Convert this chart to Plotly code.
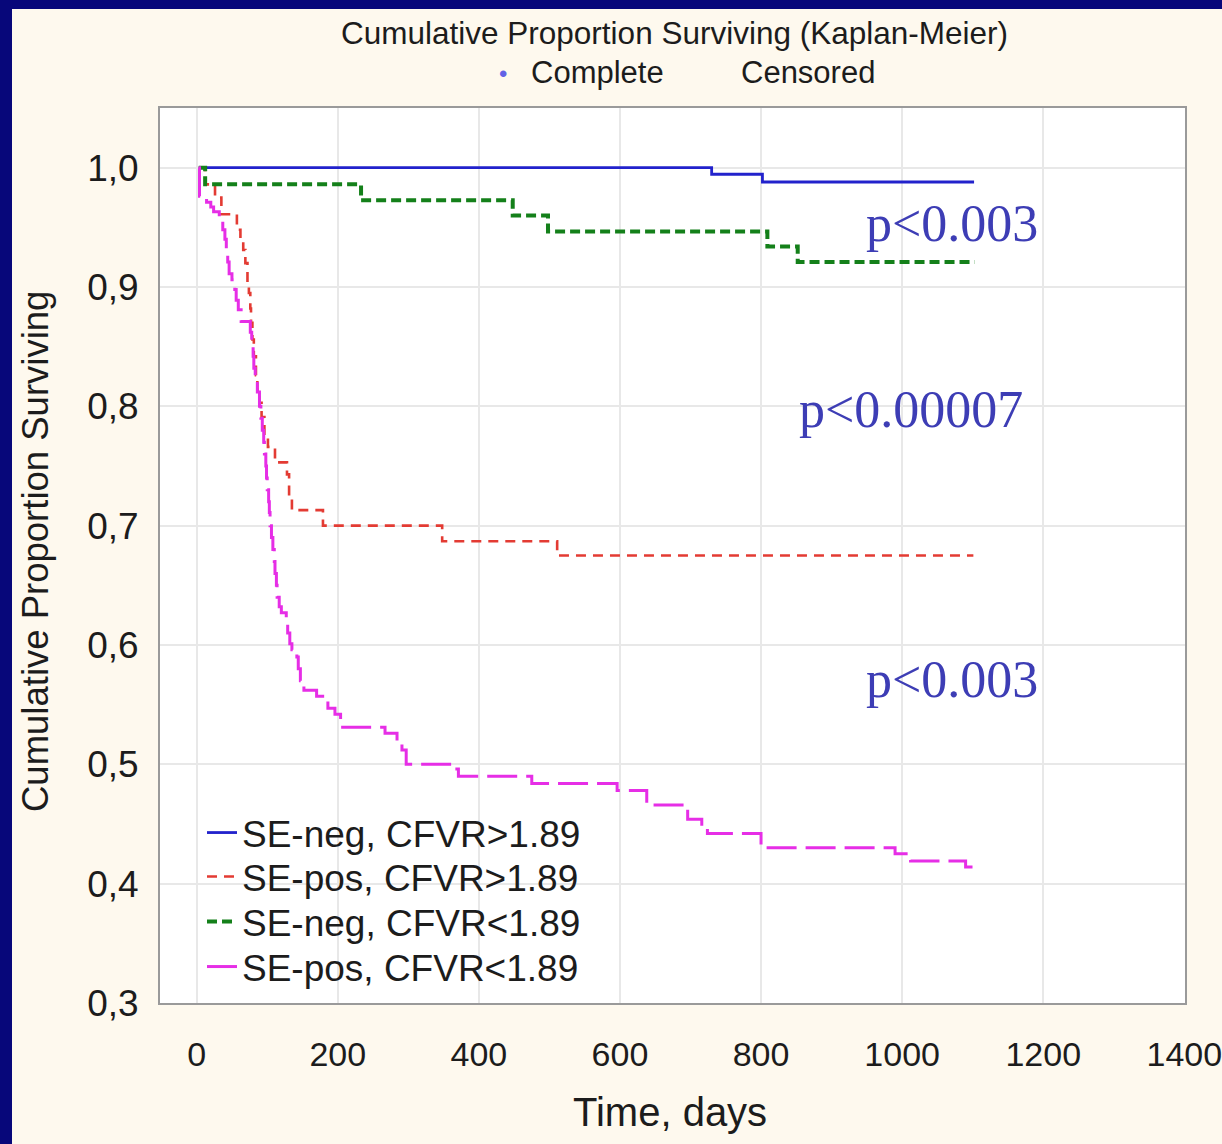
import plotly.graph_objects as go

# ---- data ----
names = ["SE-neg, CFVR>1.89", "SE-pos, CFVR>1.89", "SE-neg, CFVR<1.89", "SE-pos, CFVR<1.89"]

blue_t = [3, 730, 802, 1102]
blue_s = [1.0, 0.9945, 0.988, 0.988]

red_t = [3, 12, 26, 35, 57, 62, 66, 69, 72, 74, 76, 77, 79, 81, 84, 86, 89, 92, 96, 101,
         111, 128, 131, 135, 179, 348, 511, 1101]
red_s = [1.0, 0.986, 0.975, 0.961, 0.948, 0.940, 0.931, 0.920, 0.904, 0.895, 0.882, 0.870,
         0.856, 0.842, 0.826, 0.814, 0.803, 0.791, 0.777, 0.766, 0.753, 0.743, 0.724, 0.713,
         0.700, 0.687, 0.675, 0.675]

green_t = [3, 12, 233, 448, 498, 809, 852, 1103]
green_s = [1.0, 0.986, 0.9726, 0.960, 0.9466, 0.934, 0.921, 0.921]

mag_t = [3, 4, 11, 14, 20, 24, 32, 37, 40, 42, 44, 46, 50, 54, 56, 59, 63, 76, 78, 80,
         81, 83, 86, 89, 91, 93, 95, 96, 98, 99, 100, 102, 103, 104, 106, 108, 110, 111, 113, 114,
         117, 120, 127, 129, 132, 135, 142, 144, 147, 152, 170, 186, 196, 204, 267, 284, 291, 297,
         363, 371, 475, 596, 638, 696, 716, 724, 800, 990, 1012, 1090, 1101]
mag_s = [1.0, 0.976, 0.974, 0.971, 0.967, 0.963, 0.955, 0.948, 0.940, 0.930,
         0.921, 0.911, 0.906, 0.898, 0.889, 0.881, 0.871, 0.862, 0.852, 0.842,
         0.832, 0.823, 0.812, 0.800, 0.790, 0.780, 0.770, 0.760, 0.750, 0.740,
         0.730, 0.720, 0.711, 0.700, 0.690, 0.680, 0.670, 0.660, 0.650, 0.640,
         0.632, 0.627, 0.620, 0.610, 0.601, 0.596, 0.590, 0.580, 0.570, 0.562,
         0.557, 0.547, 0.542, 0.531, 0.526, 0.519, 0.512, 0.500, 0.496, 0.490,
         0.484, 0.478, 0.466, 0.454, 0.446, 0.442, 0.430, 0.425, 0.419, 0.414, 0.414]

x_ticks = [0, 200, 400, 600, 800, 1000, 1200, 1400]
x_ticklabels = ["0", "200", "400", "600", "800", "1000", "1200", "1400"]
y_ticks = [0.3, 0.4, 0.5, 0.6, 0.7, 0.8, 0.9, 1.0]
y_ticklabels = ["0,3", "0,4", "0,5", "0,6", "0,7", "0,8", "0,9", "1,0"]

p_labels = ["p<0.003", "p<0.00007", "p<0.003"]
p_x = [1070, 1013, 1070]
p_y = [0.953, 0.797, 0.571]

# ---- styling ----
W, H = 1222, 1144
ML, MR, MT, MB = 160, 37, 108, 141
PW, PH = W - ML - MR, H - MT - MB
NAVY = "#07077a"
CREAM = "#FEF9EE"
SANS = "Arial, Liberation Sans, sans-serif"
TXT = "#1c1c1c"


def px_x(px):
    return (px - ML) / PW


def px_y(py):
    return (H - MB - py) / PH


series = [
    (blue_t, blue_s, dict(color="#2222cc", width=2.8), "legend"),
    (red_t, red_s, dict(color="#e33b33", width=2.6, dash="10px,7px"), "legend2"),
    (green_t, green_s, dict(color="#14801a", width=4, dash="10px,5px"), "legend3"),
    (mag_t, mag_s, dict(color="#e62ee6", width=3, dash="30px,9px"), "legend4"),
]

fig = go.Figure()
for (tt, ss, ln, lg), nm in zip(series, names):
    fig.add_trace(go.Scatter(x=tt, y=ss, mode="lines", name=nm, line_shape="hv",
                             line=ln, legend=lg))

annotations = []
for txt, xx, yy in zip(p_labels, p_x, p_y):
    annotations.append(dict(x=xx, y=yy, xref="x", yref="y", text=txt, showarrow=False,
                            xanchor="center", yanchor="middle",
                            font=dict(family="Liberation Serif, Times New Roman, serif",
                                      size=52, color="#3d3db5")))


def paper_text(px, py, text, size, color=TXT, angle=0):
    return dict(x=px_x(px), y=px_y(py), xref="paper", yref="paper", text=text,
                showarrow=False, xanchor="center", yanchor="middle", textangle=angle,
                font=dict(family=SANS, size=size, color=color))


annotations += [
    paper_text(674, 33, "Cumulative Proportion Surviving (Kaplan-Meier)", 31.5),
    paper_text(503, 73, "•", 24, color="#6262e6"),
    paper_text(597, 72, "Complete", 31),
    paper_text(808, 72, "Censored", 31),
    paper_text(670, 1112, "Time, days", 40),
    paper_text(35, 552, "Cumulative Proportion Surviving", 36.5, angle=-90),
]

shapes = [
    dict(type="rect", xref="paper", yref="paper", x0=px_x(-20), x1=px_x(12),
         y0=px_y(H + 20), y1=px_y(-20), fillcolor=NAVY, line=dict(width=0), layer="below"),
    dict(type="rect", xref="paper", yref="paper", x0=px_x(-20), x1=px_x(W + 20),
         y0=px_y(9), y1=px_y(-20), fillcolor=NAVY, line=dict(width=0), layer="below"),
]

legend_rows = [833, 877, 922, 967]
legend_keys = ["legend", "legend2", "legend3", "legend4"]
legends = {}
for key, row in zip(legend_keys, legend_rows):
    legends[key] = dict(x=px_x(202), y=px_y(row), xanchor="left", yanchor="middle",
                        bgcolor="rgba(0,0,0,0)", borderwidth=0,
                        font=dict(family=SANS, size=37, color=TXT))

fig.update_layout(
    width=W, height=H,
    margin=dict(l=ML, r=MR, t=MT, b=MB, autoexpand=False),
    paper_bgcolor=CREAM,
    plot_bgcolor="white",
    showlegend=True,
    annotations=annotations,
    shapes=shapes,
    xaxis=dict(range=[-52, 1401], tickvals=x_ticks, ticktext=x_ticklabels,
               showgrid=True, gridcolor="#e8e8e8", gridwidth=1.5, zeroline=False,
               showline=True, mirror=True, linecolor="#9a9a9a", linewidth=2,
               ticks="", ticklabelstandoff=20, ticklabeloverflow="allow",
               automargin=False,
               tickfont=dict(family=SANS, size=34, color=TXT)),
    yaxis=dict(range=[0.3, 1.05], tickvals=y_ticks, ticktext=y_ticklabels,
               showgrid=True, gridcolor="#e8e8e8", gridwidth=1.5, zeroline=False,
               showline=True, mirror=True, linecolor="#9a9a9a", linewidth=2,
               ticks="", ticklabelstandoff=12, automargin=False,
               tickfont=dict(family=SANS, size=37, color=TXT)),
    **legends,
)

fig.write_html("out.html")
